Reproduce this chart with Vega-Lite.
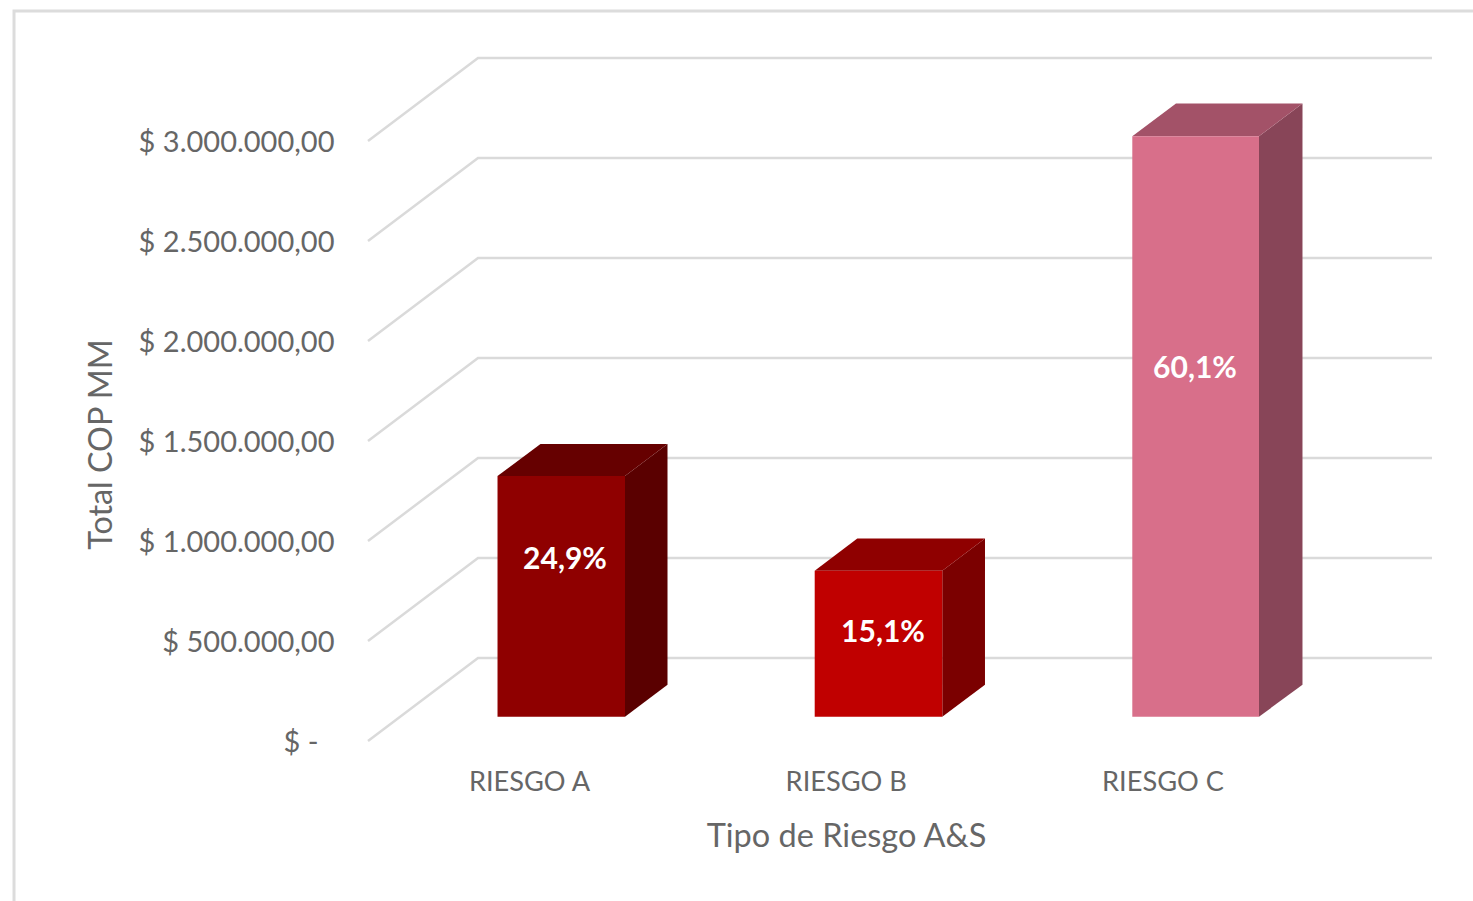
{
  "$schema": "https://vega.github.io/schema/vega-lite/v6.json",
  "width": 1064,
  "height": 683,
  "autosize": {"type": "none", "contains": "content"},
  "padding": {"left": 368, "top": 58, "right": 41, "bottom": 160},
  "background": "white",
  "view": {"stroke": null},
  "config": {"font": "Lato"},
  "datasets": {
    "grid": [
      {"level": 0, "x": 0.4917, "value": 0}, {"level": 0, "x": 0.8390, "value": 415000}, {"level": 0, "x": 3.8509, "value": 415000},
      {"level": 500000, "x": 0.4917, "value": 500000}, {"level": 500000, "x": 0.8390, "value": 915000}, {"level": 500000, "x": 3.8509, "value": 915000},
      {"level": 1000000, "x": 0.4917, "value": 1000000}, {"level": 1000000, "x": 0.8390, "value": 1415000}, {"level": 1000000, "x": 3.8509, "value": 1415000},
      {"level": 1500000, "x": 0.4917, "value": 1500000}, {"level": 1500000, "x": 0.8390, "value": 1915000}, {"level": 1500000, "x": 3.8509, "value": 1915000},
      {"level": 2000000, "x": 0.4917, "value": 2000000}, {"level": 2000000, "x": 0.8390, "value": 2415000}, {"level": 2000000, "x": 3.8509, "value": 2415000},
      {"level": 2500000, "x": 0.4917, "value": 2500000}, {"level": 2500000, "x": 0.8390, "value": 2915000}, {"level": 2500000, "x": 3.8509, "value": 2915000},
      {"level": 3000000, "x": 0.4917, "value": 3000000}, {"level": 3000000, "x": 0.8390, "value": 3415000}, {"level": 3000000, "x": 3.8509, "value": 3415000}
    ],
    "frame": [
      {"x": -0.6259, "value": -800000}, {"x": -0.6259, "value": 3650000}, {"x": 3.9803, "value": 3650000}
    ],
    "faces": [
      {"face": "A side", "x": 1.3031, "low": 121500, "high": 1325000},
      {"face": "A side", "x": 1.4373, "low": 281500, "high": 1485000},
      {"face": "A top", "x": 0.9006, "low": 1325000, "high": 1325000},
      {"face": "A top", "x": 1.0363, "low": 1325000, "high": 1485000},
      {"face": "A top", "x": 1.3031, "low": 1325000, "high": 1485000},
      {"face": "A top", "x": 1.4373, "low": 1485000, "high": 1485000},
      {"face": "B side", "x": 2.3048, "low": 121500, "high": 851500},
      {"face": "B side", "x": 2.4396, "low": 281500, "high": 1012500},
      {"face": "B top", "x": 1.9020, "low": 851500, "high": 851500},
      {"face": "B top", "x": 2.0365, "low": 851500, "high": 1012500},
      {"face": "B top", "x": 2.3048, "low": 851500, "high": 1012500},
      {"face": "B top", "x": 2.4396, "low": 1012500, "high": 1012500},
      {"face": "C side", "x": 3.3047, "low": 121500, "high": 3023500},
      {"face": "C side", "x": 3.4420, "low": 281500, "high": 3187500},
      {"face": "C top", "x": 2.9047, "low": 3023500, "high": 3023500},
      {"face": "C top", "x": 3.0426, "low": 3023500, "high": 3187500},
      {"face": "C top", "x": 3.3047, "low": 3023500, "high": 3187500},
      {"face": "C top", "x": 3.4420, "low": 3187500, "high": 3187500}
    ],
    "bars": [
      {"face": "A front", "x": 0.9006, "x2": 1.3031, "low": 121500, "high": 1325000, "labelX": 1.1137, "labelY": 905000, "share": "24,9%"},
      {"face": "B front", "x": 1.9020, "x2": 2.3048, "low": 121500, "high": 851500, "labelX": 2.1176, "labelY": 540000, "share": "15,1%"},
      {"face": "C front", "x": 2.9047, "x2": 3.3047, "low": 121500, "high": 3023500, "labelX": 3.1026, "labelY": 1860000, "share": "60,1%"}
    ]
  },
  "layer": [
    {
      "data": {"name": "grid"},
      "mark": {"type": "line", "color": "#dadada", "strokeWidth": 2.5, "interpolate": "linear"},
      "encoding": {
        "x": {
          "field": "x", "type": "quantitative",
          "scale": {"domain": [0.4917, 3.8509], "nice": false, "zero": false},
          "axis": {
            "values": [1, 2, 3], "grid": false, "domain": false, "ticks": false,
            "labelExpr": "['', 'RIESGO A', 'RIESGO B', 'RIESGO C'][datum.value]",
            "labelFont": "Lato", "labelFontSize": 27.2, "labelColor": "#666666", "labelPadding": 28, "labelFlush": false,
            "title": "Tipo de Riesgo A&S", "titleFont": "Lato", "titleFontSize": 32.5, "titleFontWeight": "normal", "titleColor": "#666666",
            "titleX": 478, "titleY": 95, "titleBaseline": "middle", "titleAlign": "center"
          }
        },
        "y": {
          "field": "value", "type": "quantitative",
          "scale": {"domain": [0, 3415000], "nice": false, "zero": false},
          "axis": {
            "values": [0, 500000, 1000000, 1500000, 2000000, 2500000, 3000000], "grid": false, "domain": false, "ticks": false,
            "labelExpr": "datum.value === 0 ? '$ -' : '$ ' + replace(format(datum.value, ',.0f'), /,/g, '.') + ',00'",
            "labelFont": "Lato", "labelFontSize": 29, "labelColor": "#666666",
            "labelPadding": {"condition": {"test": "datum.value === 0", "value": 50}, "value": 34},
            "labelLimit": 300, "labelOffset": 1,
            "title": "Total COP MM", "titleFont": "Lato", "titleFontSize": 32.3, "titleFontWeight": "normal", "titleColor": "#666666",
            "titleX": -267, "titleY": 386, "titleBaseline": "middle", "titleAlign": "center", "titleAngle": -90
          }
        },
        "detail": {"field": "level", "type": "nominal"}
      }
    },
    {
      "data": {"name": "frame"},
      "mark": {"type": "line", "color": "#dcdcdc", "strokeWidth": 3, "clip": false},
      "encoding": {
        "x": {"field": "x", "type": "quantitative"},
        "y": {"field": "value", "type": "quantitative"},
        "order": {"field": "value", "type": "quantitative"}
      }
    },
    {
      "data": {"name": "faces"},
      "mark": {"type": "area", "orient": "vertical", "interpolate": "linear"},
      "encoding": {
        "x": {"field": "x", "type": "quantitative"},
        "y": {"field": "high", "type": "quantitative"},
        "y2": {"field": "low"},
        "color": {
          "field": "face", "type": "nominal", "legend": null,
          "scale": {
            "domain": ["A front", "A top", "A side", "B front", "B top", "B side", "C front", "C top", "C side"],
            "range": ["#8f0000", "#660000", "#5a0000", "#c00000", "#8f0000", "#7b0000", "#d86f8a", "#a35268", "#884558"]
          }
        }
      }
    },
    {
      "data": {"name": "bars"},
      "mark": {"type": "rect"},
      "encoding": {
        "x": {"field": "x", "type": "quantitative"},
        "x2": {"field": "x2"},
        "y": {"field": "low", "type": "quantitative"},
        "y2": {"field": "high"},
        "color": {"field": "face", "type": "nominal", "legend": null}
      }
    },
    {
      "data": {"name": "bars"},
      "mark": {"type": "text", "color": "white", "font": "Lato", "fontSize": 30, "fontWeight": "bold", "align": "center", "baseline": "middle"},
      "encoding": {
        "x": {"field": "labelX", "type": "quantitative"},
        "y": {"field": "labelY", "type": "quantitative"},
        "text": {"field": "share", "type": "nominal"}
      }
    }
  ]
}
